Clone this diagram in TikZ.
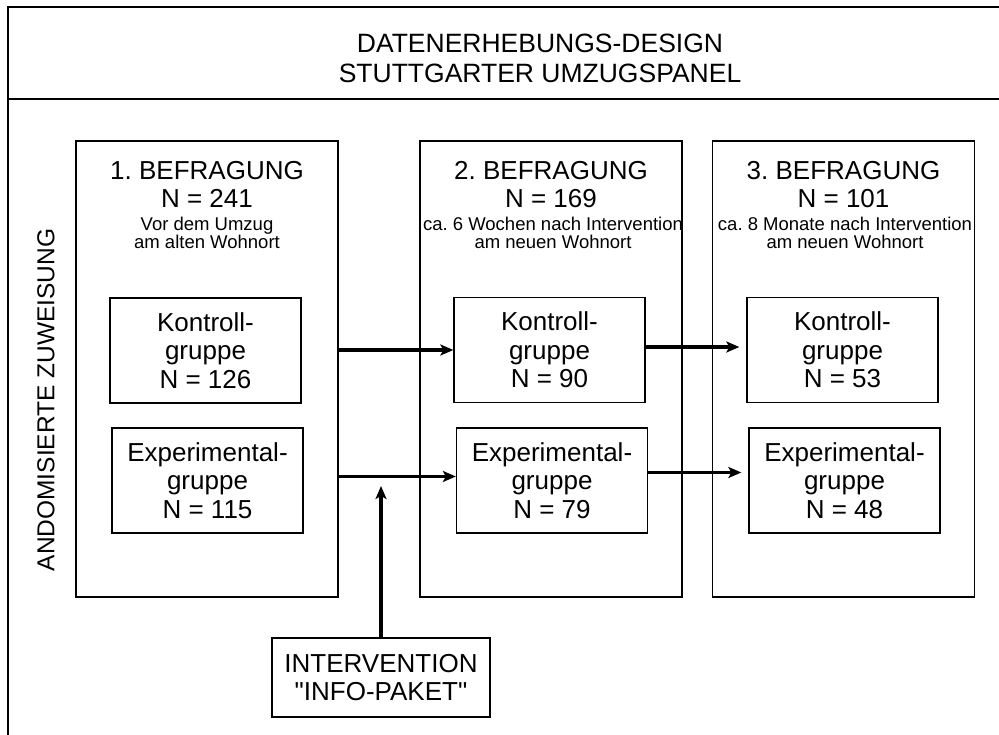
\documentclass[tikz,border=0pt]{standalone}
\usepackage{fontspec}
\setmainfont{Liberation Sans}[Ligatures=TeXOff]
\usetikzlibrary{arrows.meta,positioning}
\frenchspacing
\newcommand{\titlefnt}{\fontsize{26.5}{30}\selectfont}
\newcommand{\bigfnt}{\fontsize{26}{28.5}\selectfont}
\newcommand{\subfnt}{\fontsize{18.5}{17.5}\selectfont}
\newcommand{\rotfnt}{\fontsize{24.5}{28}\selectfont}
\begin{document}
\begin{tikzpicture}[x=1pt, y=-1pt, every node/.style={font=\bigfnt},
  col/.style={draw,line width=1.3pt,minimum width=262pt,minimum height=456pt},
  grp/.style={draw,line width=1.3pt,minimum width=191pt,minimum height=105pt,inner sep=0pt,align=center},
  head/.style={anchor=north,inner sep=0pt,align=center},
  flow/.style={-{Stealth[length=13pt,width=11pt,inset=3pt]},line width=3.2pt}]
\useasboundingbox (0,0) rectangle (999,735);
% frame and title
\draw[line width=1.3pt] (999,7) -- (8,7) -- (8,735);
\draw[line width=1.3pt] (8,99) -- (999,99);
\node[font=\titlefnt,align=center] (title) at (540,58) {DATENERHEBUNGS-DESIGN\\STUTTGARTER UMZUGSPANEL};
\node[font=\rotfnt,rotate=90] (zuw) at (46,400) {ANDOMISIERTE ZUWEISUNG};
% three waves
\node[col] (col1) at (207,369) {};
\node[col] (col2) at (551,369) {};
\node[col] (col3) at (843.5,369) {};
\node[head] (head1) at (207,161) {1. BEFRAGUNG\\N = 241};
\node[head] (head2) at (551,161) {2. BEFRAGUNG\\N = 169};
\node[head] (head3) at (843.5,161) {3. BEFRAGUNG\\N = 101};
\node[head,font=\subfnt] (sub1) at (207,217) {Vor dem Umzug\\am alten Wohnort};
\node[head,font=\subfnt] (sub2) at (553,217) {ca. 6 Wochen nach Intervention\\am neuen Wohnort};
\node[head,font=\subfnt] (sub3) at (845,217) {ca. 8 Monate nach Intervention\\am neuen Wohnort};
% groups
\node[grp] (kon1) at (205.5,350.5) {Kontroll-\\gruppe\\N = 126};
\node[grp] (exp1) at (207.5,480.5) {Experimental-\\gruppe\\N = 115};
\node[grp] (kon2) at (549.5,350) {Kontroll-\\gruppe\\N = 90};
\node[grp] (exp2) at (552,480.5) {Experimental-\\gruppe\\N = 79};
\node[grp] (kon3) at (842.5,350) {Kontroll-\\gruppe\\N = 53};
\node[grp] (exp3) at (844.5,480.5) {Experimental-\\gruppe\\N = 48};
% intervention
\node[draw,line width=2.8pt,minimum width=218pt,minimum height=79pt,inner sep=0pt,align=center] (iv) at (381,677.5) {INTERVENTION\\"INFO-PAKET"};
\coordinate (ivtip) at (381,486);
% arrows
\draw[flow] (kon2.west -| col1.east) -- (kon2.west);
\draw[flow] ([yshift=4pt]exp2.west -| col1.east) -- ([yshift=4pt]exp2.west);
\draw[flow,shorten >=7pt] ([yshift=3pt]kon2.east) -- ([yshift=3pt]kon3.west);
\draw[flow,shorten >=7pt] ([yshift=8pt]exp2.east) -- ([yshift=8pt]exp3.west);
\draw[flow] (iv.north) -- (ivtip);
\end{tikzpicture}
\end{document}
